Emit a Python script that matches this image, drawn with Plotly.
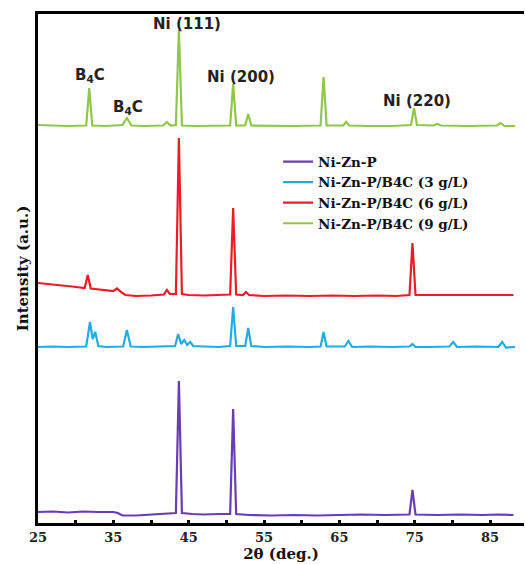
import plotly.graph_objects as go

# ---- data (2theta in degrees, intensity in arbitrary units incl. vertical offset) ----
names = ["Ni-Zn-P", "Ni-Zn-P/B4C (3 g/L)", "Ni-Zn-P/B4C (6 g/L)", "Ni-Zn-P/B4C (9 g/L)"]

pts_0 = [(25, 11), (27, 11.5), (29, 10.5), (31, 11.5), (33, 11), (35, 11), (35.6, 10), (36.2, 7.5),
         (38, 7.5), (40, 8.5), (42, 9), (43.3, 10), (43.7, 142), (44.1, 10), (45.5, 9), (47, 8.5),
         (49, 9), (50.5, 9), (50.9, 114), (51.3, 9), (53, 8), (56, 7.5), (59, 8), (62, 7.5), (65, 8),
         (68, 8.5), (71, 8), (74.3, 8.5), (74.7, 33), (75.1, 8.5), (78, 8), (81, 8.5), (84, 8),
         (86, 8.5), (88.1, 8)]

pts_3 = [(25, 176), (27, 176.5), (29, 176), (31.4, 176.5), (31.9, 201), (32.25, 184), (32.6, 191),
         (33.0, 177), (34, 176), (36.3, 176.5), (36.8, 193), (37.3, 176.5), (39, 176), (41, 176.5),
         (43.2, 177), (43.6, 189), (44.0, 179), (44.4, 183), (44.8, 178), (45.2, 181), (45.6, 177),
         (47, 176.5), (49, 176), (50.5, 177), (50.9, 216), (51.3, 177), (52.5, 177), (52.9, 195),
         (53.3, 177), (55, 176), (58, 176.5), (61, 176), (62.5, 176.5), (62.9, 191), (63.3, 176.5),
         (65.7, 176.5), (66.2, 182), (66.7, 176), (69, 176.5), (72, 176), (74.3, 176.5), (74.7, 179),
         (75.1, 176), (77, 176), (79.6, 176.5), (80.1, 181), (80.6, 176), (83, 176.5), (86.1, 176),
         (86.6, 181), (87.1, 175.5), (88.3, 176)]

pts_6 = [(25, 240), (26.5, 239), (28, 238), (29.5, 236.5), (31.2, 235), (31.6, 248), (32.0, 234.5),
         (33.5, 233), (35.0, 232), (35.5, 234.5), (36.0, 231), (36.6, 228), (38, 227), (40, 227.5),
         (41.7, 228.5), (42.1, 233), (42.5, 229), (43.3, 229), (43.7, 385), (44.1, 229), (45, 228),
         (47, 227.5), (49, 228), (50.5, 228.5), (50.9, 315), (51.3, 228.5), (52.2, 228), (52.6, 231),
         (53.0, 228), (55, 227), (58, 227.5), (61, 227), (64, 227.5), (67, 227), (70, 227.5),
         (72.5, 227), (74.3, 228), (74.7, 280), (75.1, 228), (77, 228), (80, 228.5), (83, 228),
         (86, 228.5), (88.1, 228)]

pts_9 = [(25, 398), (27, 397.5), (29, 397), (31.4, 397.5), (31.8, 435), (32.2, 397.5), (34, 397),
         (36.2, 398), (36.8, 405), (37.4, 397.5), (39, 397), (41.6, 397.5), (42.1, 401), (42.6, 397.5),
         (43.3, 398), (43.7, 493), (44.1, 397.5), (46, 397), (48, 397), (50.5, 397.5), (50.9, 439),
         (51.3, 397.5), (52.5, 397.5), (52.9, 409), (53.3, 397.5), (56, 397), (59, 397), (62.5, 397.5),
         (62.9, 446), (63.3, 397.5), (65.5, 397.5), (65.9, 401), (66.3, 397.5), (69, 397), (72, 397),
         (74.5, 398), (74.9, 415), (75.3, 398), (77.5, 397.5), (78, 399), (78.5, 397.5), (82, 397),
         (85.9, 397.5), (86.4, 400), (86.9, 397), (88.3, 397)]

series = [pts_0, pts_3, pts_6, pts_9]
colors = ["#6a3db5", "#23abe3", "#ec1c24", "#8fc74a"]

x_ticks = [25, 35, 45, 55, 65, 75, 85]

peak_labels = ["B<sub>4</sub>C", "B<sub>4</sub>C", "Ni (111)", "Ni (200)", "Ni (220)"]
peak_label_x = [31.9, 37.0, 44.8, 52.0, 75.3]
peak_label_y = [448, 416, 499, 446, 422]

# ---- figure ----
fig = go.Figure()
for name, pts, col in zip(names, series, colors):
    fig.add_trace(go.Scatter(
        x=[p[0] for p in pts], y=[p[1] for p in pts], mode="lines", name=name,
        line=dict(color=col, width=2.2)))

for txt, lx, ly in zip(peak_labels, peak_label_x, peak_label_y):
    fig.add_annotation(x=lx, y=ly, text=txt, showarrow=False,
                       font=dict(family="DejaVu Sans", size=15, color="#222222", weight="bold"))

serif = "DejaVu Serif"
fig.update_layout(
    width=526, height=564,
    margin=dict(l=38, r=2, t=14, b=41),
    paper_bgcolor="white", plot_bgcolor="white",
    showlegend=True,
    legend=dict(x=0.494, y=0.74, xanchor="left", yanchor="top",
                bgcolor="rgba(0,0,0,0)", itemwidth=30,
                font=dict(family=serif, size=13.5, color="#111111", weight="bold")),
    xaxis=dict(range=[25, 89.5], tickvals=x_ticks, ticktext=[str(v) for v in x_ticks],
               minor=dict(dtick=5, tick0=25, ticks="inside", ticklen=3, tickwidth=3, tickcolor="black"),
               ticks="inside", ticklen=3, tickwidth=3, tickcolor="black",
               ticklabelstandoff=1,
               showline=True, linecolor="black", linewidth=2.5, mirror=True,
               showgrid=False, zeroline=False,
               tickfont=dict(family=serif, size=13, color="#222222", weight="bold"),
               title=dict(text="2θ (deg.)", standoff=5,
                          font=dict(family=serif, size=15, color="#111111", weight="bold"))),
    yaxis=dict(range=[0, 509], showticklabels=False, ticks="", showgrid=False, zeroline=False,
               showline=True, linecolor="black", linewidth=2.5,
               title=dict(text="Intensity (a.u.)", standoff=4,
                          font=dict(family=serif, size=15, color="#111111", weight="bold"))),
)

fig.write_html("out.html")
